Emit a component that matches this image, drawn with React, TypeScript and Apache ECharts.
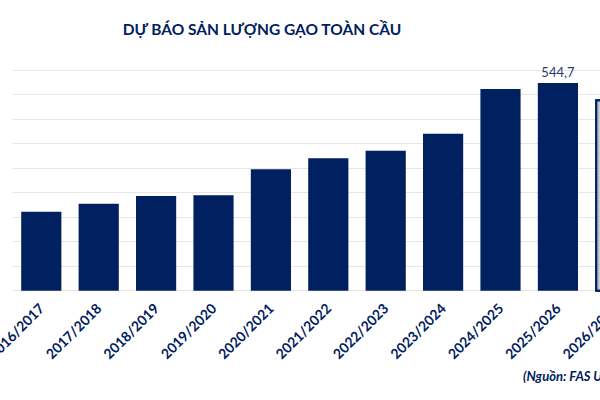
import React, { useEffect, useRef } from "react";
import * as echarts from "echarts";

const categories = [
  "2016/2017",
  "2017/2018",
  "2018/2019",
  "2019/2020",
  "2020/2021",
  "2021/2022",
  "2022/2023",
  "2023/2024",
  "2024/2025",
  "2025/2026",
  "2026/2027",
];
const production = [492.2, 495.5, 498.6, 498.9, 509.5, 514.0, 517.1, 524.0, 542.3, 544.7, 538.1];
const labelledCategory = "2025/2026";
const forecastCategory = "2026/2027";
const yTicks = { min: 460, max: 550, interval: 10 };
const titleText = "DỰ BÁO SẢN LƯỢNG GẠO TOÀN CẦU";
const sourceText = "(Nguồn: FAS USDA)";

const NAVY = "#002060";
const FONT = "Lato, 'Open Sans', sans-serif";

export default function App() {
  const ref = useRef<HTMLDivElement>(null);
  useEffect(() => {
    if (!ref.current) return;
    const chart = echarts.init(ref.current, undefined, { renderer: "svg" });
    const data = production.map((v, i) => {
      const cat = categories[i];
      const item: any = { value: v };
      if (cat === labelledCategory) {
        item.label = {
          show: true,
          position: "top",
          distance: 4,
          color: "#2a3a70",
          fontSize: 13,
          fontFamily: FONT,
          formatter: (p: any) => Number(p.value).toFixed(1).replace(".", ","),
        };
      }
      if (cat === forecastCategory) {
        item.itemStyle = {
          color: "#cfd0d6",
          borderColor: NAVY,
          borderWidth: 2,
          decal: {
            symbol: "rect",
            symbolSize: 1,
            dashArrayX: [1, 1],
            dashArrayY: [1, 1],
            color: "rgba(80,80,100,0.35)",
          },
        };
      }
      return item;
    });
    chart.setOption({
      animation: false,
      textStyle: { fontFamily: FONT },
      grid: {
        left: 12.6,
        top: 70,
        width: 631.4,
        height: 220.7,
        containLabel: false,
        outerBoundsMode: "none",
      },
      graphic: [
        {
          type: "text",
          x: 262,
          y: 29,
          style: {
            text: titleText,
            fill: NAVY,
            font: `bold 15.5px ${FONT}`,
            textAlign: "center",
            textVerticalAlign: "middle",
          },
        },
        {
          type: "text",
          x: 523,
          y: 376,
          style: {
            text: sourceText,
            fill: NAVY,
            font: `italic bold 13px ${FONT}`,
            textAlign: "left",
            textVerticalAlign: "middle",
          },
        },
      ],
      xAxis: {
        type: "category",
        data: categories,
        axisLine: { show: false },
        axisTick: { show: false },
        axisLabel: {
          interval: 0,
          rotate: 45,
          margin: 15,
          color: NAVY,
          fontSize: 14,
          fontWeight: "bold",
          fontFamily: FONT,
        },
      },
      yAxis: {
        type: "value",
        min: yTicks.min,
        max: yTicks.max,
        interval: yTicks.interval,
        axisLabel: { show: false },
        axisLine: { show: false },
        axisTick: { show: false },
        splitLine: { lineStyle: { color: "#e6e6e6", width: 1 } },
      },
      series: [
        {
          type: "bar",
          data,
          barCategoryGap: "30%",
          itemStyle: { color: NAVY },
        },
      ],
    });
    return () => chart.dispose();
  }, []);
  return (
    <div
      style={{
        position: "absolute",
        left: 0,
        top: 0,
        width: 600,
        height: 400,
        overflow: "hidden",
        background: "#ffffff",
      }}
    >
      <div ref={ref} style={{ width: 700, height: 400 }} />
    </div>
  );
}
